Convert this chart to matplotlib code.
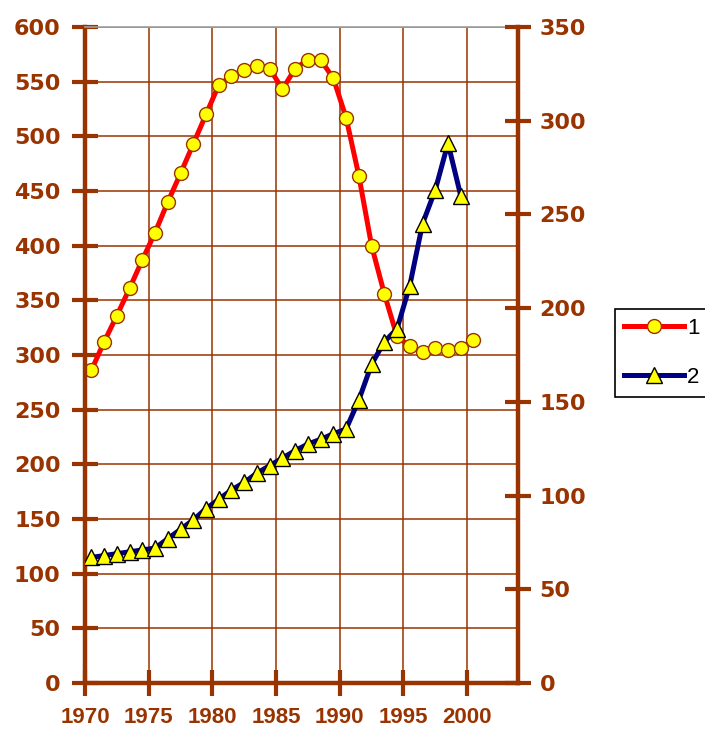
import numpy as np
import matplotlib
matplotlib.use('Agg')
import matplotlib.pyplot as plt

brown = '#993300'

years = np.arange(1970, 2001)
series1 = [286, 312, 336, 361, 387, 412, 440, 466, 493, 520,
           547, 555, 561, 564, 562, 543, 562, 570, 570, 553,
           517, 464, 400, 356, 317, 308, 303, 306, 305, 306, 314]
years2 = np.arange(1970, 2000)
series2 = [67, 68, 69, 70, 71, 72, 77, 82, 87, 93,
           98, 103, 107, 112, 116, 120, 124, 127.5, 130, 133,
           135.5, 151, 170, 182, 189, 212, 245, 263, 288, 260]

x_ticks = list(range(1970, 2001, 5))
left_ticks = list(range(0, 601, 50))
right_ticks = list(range(0, 351, 50))

fig = plt.figure(figsize=(7.05, 7.33), dpi=100)
ax1 = fig.add_axes([0.1206, 0.0682, 0.6142, 0.895])
ax2 = ax1.twinx()

# values are mid-year, so shift half a year right of the tick
l1, = ax1.plot(years + 0.5, series1, color='red', lw=3.6, marker='o', ms=10,
               mfc='yellow', mec=brown, mew=1, label='1')
l2, = ax2.plot(years2 + 0.5, series2, color='#000080', lw=3.6, marker='^', ms=11.5,
               mfc='yellow', mec='black', mew=1, label='2')

ax1.set_xlim(1970, 2004)
ax1.set_ylim(0, 600)
ax2.set_ylim(0, 350)
ax1.set_xticks(x_ticks)
ax1.set_yticks(left_ticks)
ax2.set_yticks(right_ticks)

ax1.grid(True, color=brown, lw=1.1)
ax1.set_axisbelow(True)

for s in ['left', 'bottom']:
    ax1.spines[s].set_color(brown)
    ax1.spines[s].set_linewidth(3.2)
ax1.spines['top'].set_color('#a0a0a0')
ax1.spines['top'].set_linewidth(1.2)
ax1.spines['right'].set_visible(False)
for s in ['left', 'bottom', 'top']:
    ax2.spines[s].set_visible(False)
ax2.spines['right'].set_color(brown)
ax2.spines['right'].set_linewidth(3.2)

ax1.tick_params(axis='both', direction='inout', length=19, width=3,
                color=brown, labelcolor=brown)
ax1.tick_params(axis='y', pad=8)
ax1.tick_params(axis='x', pad=8)
ax2.tick_params(axis='y', direction='inout', length=19, width=3,
                color=brown, labelcolor=brown, pad=6)

for lbl in ax1.get_yticklabels() + ax2.get_yticklabels():
    lbl.set_fontfamily('DejaVu Sans')
    lbl.set_fontweight('bold')
    lbl.set_fontsize(16)
for lbl in ax1.get_xticklabels():
    lbl.set_fontfamily('Liberation Sans')
    lbl.set_fontweight('bold')
    lbl.set_fontsize(16)

leg = fig.legend([l1, l2], ['1', '2'], loc='upper left',
                 bbox_to_anchor=(0.872, 0.5785), borderaxespad=0,
                 fancybox=False, edgecolor='black', framealpha=1,
                 prop={'family': 'Liberation Sans', 'size': 16},
                 handlelength=2.7, handletextpad=0.15, labelspacing=1.25,
                 borderpad=0.4, numpoints=1)
leg.get_frame().set_linewidth(1.2)

fig.savefig('out.png', dpi=100)
